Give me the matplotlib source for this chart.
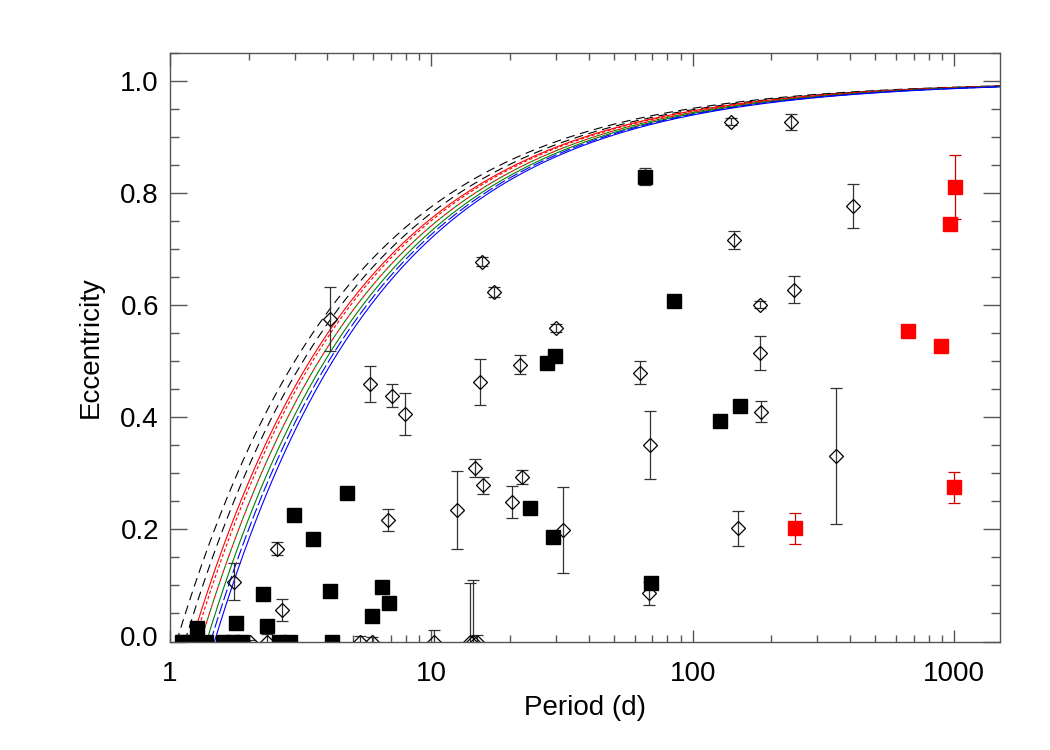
import numpy as np
import matplotlib.pyplot as plt
import matplotlib.transforms as mtransforms
from matplotlib.ticker import LogLocator, MultipleLocator, NullFormatter, FixedLocator, FixedFormatter

plt.rcParams['font.family'] = ['Liberation Sans', 'DejaVu Sans']

# open diamonds: period (d), eccentricity, error
dia_p = [4.10, 1.75, 2.56, 2.68, 5.80, 7.06, 7.93, 15.3, 21.8, 62.8, 68.6, 6.85,
         12.5, 14.7, 15.7, 20.4, 22.2, 32.0, 68.2, 140.7, 238.8, 410.9, 144.1,
         243.6, 180.6, 181.8, 183.3, 354.6, 149.3, 15.6, 17.3, 30.0,
         2.03, 2.35, 5.34, 5.92, 10.24, 14.06, 14.47, 14.9]
dia_e = [0.575, 0.107, 0.166, 0.056, 0.460, 0.439, 0.406, 0.463, 0.494, 0.480, 0.351, 0.217,
         0.235, 0.309, 0.279, 0.249, 0.294, 0.199, 0.086, 0.928, 0.927, 0.778, 0.717,
         0.628, 0.601, 0.515, 0.410, 0.331, 0.202, 0.678, 0.624, 0.559,
         0.0, 0.0, 0.0, 0.0, 0.0, 0.0, 0.0, 0.0]
dia_err = [0.057, 0.033, 0.011, 0.019, 0.032, 0.021, 0.037, 0.041, 0.017, 0.021, 0.061, 0.020,
           0.070, 0.016, 0.015, 0.028, 0.012, 0.076, 0.020, 0.006, 0.014, 0.039, 0.016,
           0.024, 0.006, 0.030, 0.019, 0.121, 0.031, 0.008, 0.009, 0.007,
           0.003, 0.013, 0.009, 0.008, 0.020, 0.105, 0.110, 0.012]

# filled black squares
sq_p = [65.6, 85.0, 27.6, 29.7, 4.75, 23.8, 29.3, 6.46, 6.89, 5.92, 69.2, 127.0, 152.4,
        2.97, 3.54, 4.10, 2.27, 1.79, 2.35, 1.27,
        1.11, 1.25, 1.37, 1.60, 1.74, 1.89, 2.61, 2.87, 4.16]
sq_e = [0.830, 0.608, 0.497, 0.510, 0.265, 0.239, 0.187, 0.098, 0.069, 0.046, 0.105, 0.394, 0.421,
        0.225, 0.183, 0.090, 0.084, 0.0325, 0.028, 0.024,
        0.0, 0.0, 0.0, 0.0, 0.0, 0.0, 0.0, 0.0, 0.0]
sq_err = [0.015, 0, 0, 0, 0, 0.007, 0, 0, 0, 0, 0, 0, 0,
          0, 0.006, 0, 0, 0, 0, 0,
          0.012, 0, 0, 0, 0, 0, 0, 0, 0]

# filled red squares
red_p = [1011, 968, 667, 889, 247, 1000]
red_e = [0.812, 0.7455, 0.555, 0.528, 0.202, 0.275]
red_err = [0.057, 0, 0, 0, 0.028, 0.027]

# limiting curves e = 1 - (Pc/P)^(2/3)
curve_pc = [1.06, 1.14, 1.21, 1.24, 1.31, 1.31, 1.38, 1.43, 1.48]
curve_col = ['k', 'k', 'red', 'red', 'red', 'green', 'green', 'blue', 'blue']
curve_ls = [(0, (8, 5)), (0, (8, 5)), '-', (0, (3, 2)), (0, (4, 4)), (4, (4, 4)), '-', (0, (10, 3)), '-']

xticks = [1, 10, 100, 1000]
xtick_labels = ['1', '10', '100', '1000']
yticks = [0.0, 0.2, 0.4, 0.6, 0.8, 1.0]

fig = plt.figure(figsize=(10.5, 7.5), dpi=100)
ax = fig.add_axes([170/1050, 1-641.5/750, 830/1050, (641.5-53.3)/750])

for pc, c, ls in zip(curve_pc, curve_col, curve_ls):
    pp = np.logspace(np.log10(pc), np.log10(1500), 400)
    ax.plot(pp, 1 - (pc/pp)**(2/3), color=c, ls=ls, lw=0.8)

def with_err(p, e, err):
    idx = [i for i in range(len(err)) if err[i] > 0]
    return [p[i] for i in idx], [e[i] for i in idx], [err[i] for i in idx]

x, y, yerr = with_err(dia_p, dia_e, dia_err)
ax.errorbar(x, y, yerr=yerr, fmt='none', ecolor='#333333', elinewidth=0.9, capsize=4.2, capthick=0.9)
ax.plot(dia_p, dia_e, 'D', ms=7, mfc='none', mec='black', mew=0.9)

x, y, yerr = with_err(sq_p, sq_e, sq_err)
ax.errorbar(x, y, yerr=yerr, fmt='none', ecolor='#333333', elinewidth=0.9, capsize=4.2, capthick=0.9)
ax.plot(sq_p, sq_e, 's', ms=10, color='black')

x, y, yerr = with_err(red_p, red_e, red_err)
ax.errorbar(x, y, yerr=yerr, fmt='none', ecolor='#cc0000', elinewidth=0.9, capsize=4.2, capthick=0.9)
ax.plot(red_p, red_e, 's', ms=10, color='red')

ax.set_xscale('log')
ax.set_xlim(1, 1500)
ax.set_ylim(0, 1.05)

ax.xaxis.set_major_locator(FixedLocator(xticks))
ax.xaxis.set_major_formatter(FixedFormatter(xtick_labels))
ax.xaxis.set_minor_locator(LogLocator(base=10, subs=np.arange(2, 10)))
ax.xaxis.set_minor_formatter(NullFormatter())
ax.yaxis.set_major_locator(FixedLocator(yticks))
ax.yaxis.set_minor_locator(MultipleLocator(0.05))
ax.yaxis.set_major_formatter(plt.FuncFormatter(lambda v, pos: '%.1f' % v))

ax.tick_params(which='both', direction='in', top=True, right=True, color='#555555', width=1, labelsize=20)
ax.tick_params(axis='x', which='major', length=9, pad=14)
ax.tick_params(axis='x', which='minor', length=5)
ax.tick_params(axis='y', which='major', length=12, pad=8)
ax.tick_params(axis='y', which='minor', length=6.5)
for s in ax.spines.values():
    s.set_color('#555555')
    s.set_linewidth(1)

ax.set_xlabel('Period (d)', fontsize=20, labelpad=6)
ax.set_ylabel('Eccentricity', fontsize=20, labelpad=12)

# the bottom "0.0" label sits a little above its tick
fig.canvas.draw()
lab0 = ax.yaxis.get_major_ticks()[0].label1
lab0.set_transform(lab0.get_transform() + mtransforms.ScaledTranslation(0, 6/100, fig.dpi_scale_trans))

fig.savefig('out.png', dpi=100)
